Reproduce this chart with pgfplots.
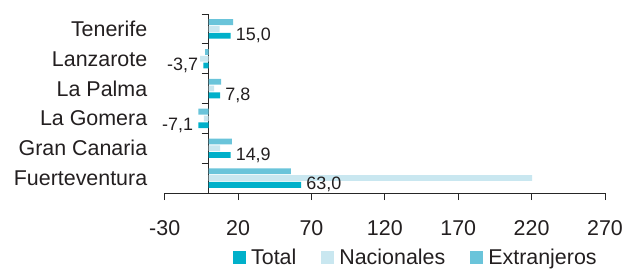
\documentclass[border=0pt]{standalone}
\usepackage{fontspec}
\setmainfont{Liberation Sans}
\usepackage{pgfplots}
\pgfplotsset{compat=1.18}
\definecolor{ctotal}{RGB}{0,176,202}
\definecolor{cnac}{RGB}{201,231,240}
\definecolor{cext}{RGB}{106,196,218}
\definecolor{txt}{RGB}{35,31,32}
\begin{document}
\begin{tikzpicture}
\path[use as bounding box] (-164.7bp,-76bp) rectangle (461.3bp,193bp);
\begin{axis}[
  at={(0,0)}, anchor=south west,
  scale only axis, width=440.3bp, height=179bp,
  xbar=1.0bp, bar width=5.8bp,
  xmin=-30, xmax=270, ymin=-0.5, ymax=5.5,
  enlargelimits=false, clip=false,
  axis x line=bottom, axis y line=middle,
  hide obscured x ticks=false, hide obscured y ticks=false,
  axis line style={-, line width=0.9bp, color=black!85},
  tick style={line width=0.9bp, color=black!85},
  major tick length=7bp,
  tick align=outside,
  xtick={-30,20,...,270},
  ytick={-0.5,0.5,...,5.5},
  y tick label as interval,
  yticklabels={Fuerteventura,Gran Canaria,La Gomera,La Palma,Lanzarote,Tenerife},
  ticklabel style={font=\fontsize{21.5}{24}\selectfont, text=txt},
  yticklabel style={anchor=east, xshift=-51bp},
  xticklabel style={anchor=north, yshift=-17bp},
  /pgf/number format/assume math mode=true,
  legend image code/.code={\fill[#1] (0bp,-6.5bp) rectangle (13bp,6.5bp);},
  legend style={at={(0.155,-0.36)}, anchor=west, draw=none, fill=none,
    font=\fontsize{21.5}{24}\selectfont, text=txt, inner sep=0pt,
    /tikz/every odd column/.append style={column sep=3bp},
    /tikz/every even column/.append style={column sep=23bp}},
  legend columns=-1,
]
\addplot[draw=none, fill=ctotal, point meta=x,
  nodes near coords={\pgfmathprintnumber[fixed,fixed zerofill,precision=1,use comma,assume math mode=true]{\pgfplotspointmeta}},
  nodes near coords style={font=\fontsize{18}{20}\selectfont, text=txt, inner sep=5bp}]
  coordinates {(63.0,0) (14.9,1) (-7.1,2) (7.8,3) (-3.7,4) (15.0,5)};
\addplot[draw=none, fill=cnac]
  coordinates {(220.4,0) (7.8,1) (-3.3,2) (3.7,3) (-5.8,4) (7.4,5)};
\addplot[draw=none, fill=cext]
  coordinates {(56.0,0) (15.8,1) (-7.0,2) (8.5,3) (-2.5,4) (16.7,5)};
\legend{Total,Nacionales,Extranjeros}
\end{axis}
\end{tikzpicture}
\end{document}
